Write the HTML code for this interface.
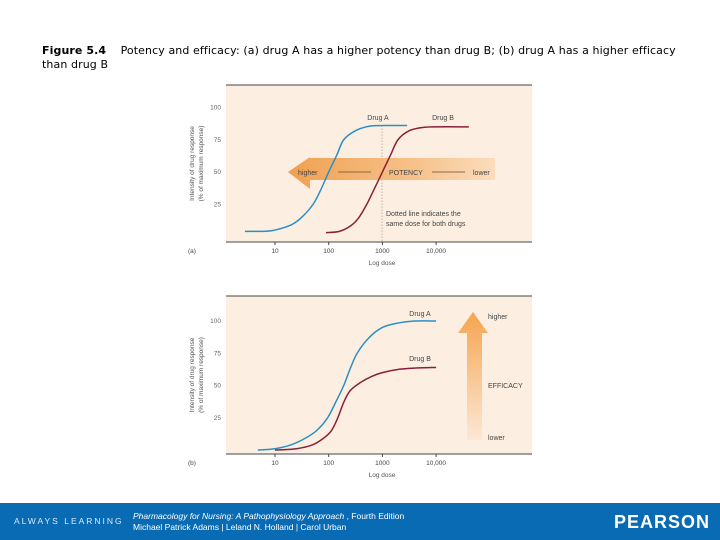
<!DOCTYPE html>
<html><head><meta charset="utf-8"><style>
body{margin:0;width:720px;height:540px;background:#fff;position:relative;overflow:hidden;font-family:"Liberation Sans",sans-serif}
#title{position:absolute;left:42px;top:44px;font-size:11px;color:#000;line-height:14px;font-family:"DejaVu Sans","Liberation Sans",sans-serif;letter-spacing:0.1px;white-space:nowrap}
#footer{position:absolute;left:0;top:503px;width:720px;height:37px;background:#0a6bb5;color:#fff}
</style></head><body>
<div id="title"><b>Figure 5.4</b>&nbsp;&nbsp;&nbsp; Potency and efficacy: (a) drug A has a higher potency than drug B; (b) drug A has a higher efficacy<br>than drug B</div>
<svg id="chart" width="720" height="503" style="position:absolute;left:0;top:0">
<defs>
<linearGradient id="hg" x1="0" x2="1" y1="0" y2="0"><stop offset="0" stop-color="#f0a050"/><stop offset="0.6" stop-color="#f6c189"/><stop offset="1" stop-color="#fbdcbc"/></linearGradient>
<linearGradient id="vg" x1="0" x2="0" y1="0" y2="1"><stop offset="0" stop-color="#f5a450"/><stop offset="1" stop-color="#fce8d6"/></linearGradient>
</defs>
</svg>
<div id="footer">
<div style="position:absolute;left:14px;top:13px;font-size:8.5px;letter-spacing:2px;color:#dce9f5">ALWAYS LEARNING</div>
<div style="position:absolute;left:133px;top:8px;font-size:8.5px;line-height:11px"><i>Pharmacology for Nursing: A Pathophysiology Approach</i> , Fourth Edition<br>Michael Patrick Adams | Leland N. Holland | Carol Urban</div>
<div style="position:absolute;left:614px;top:9px;font-size:18px;font-weight:bold;letter-spacing:1px">PEARSON</div>
</div>
<script>
const xTickLogs=[1,2,3,4];
const xTickLabels=["10","100","1000","10,000"];
const yTicks=[25,50,75,100];
const aDrugALog=[0.44,0.8,1.0,1.3,1.5,1.71,1.85,2.0,2.15,2.28,2.5,2.75,3.0,3.46];
const aDrugAVal=[4,4,5,9,15,25,36,50,63,75,82,85.5,86,86];
const aDrugBLog=[1.95,2.2,2.4,2.55,2.71,2.85,3.0,3.15,3.29,3.5,3.75,4.0,4.61];
const aDrugBVal=[3,4,8,14,25,37,50,63,75,82,84.5,85,85];
const bDrugALog=[0.68,1.0,1.3,1.6,1.8,1.98,2.13,2.28,2.4,2.53,2.75,3.0,3.3,3.6,4.0];
const bDrugAVal=[0,1,4,10,16,25,37,50,63,75,87,95,98.5,100,100];
const bDrugBLog=[1.0,1.4,1.7,1.9,2.05,2.17,2.28,2.4,2.58,2.8,3.0,3.3,3.6,4.0];
const bDrugBVal=[0,1,4,9,15,25,37,46,52,57,60,62.5,63.5,64];
const svg=document.getElementById('chart');
const NS='http://www.w3.org/2000/svg';
function mk(tag,attrs,txt){const e=document.createElementNS(NS,tag);for(const k in attrs)e.setAttribute(k,attrs[k]);if(txt!==undefined)e.textContent=txt;svg.appendChild(e);return e;}
const xS=l=>275+(l-1)*53.7;
function path(xs,ys){const p=xs.map((l,i)=>[xS(l),ys(i)]);let d='M'+p[0][0]+','+p[0][1];
for(let i=0;i<p.length-1;i++){const p0=p[i-1]||p[i],p1=p[i],p2=p[i+1],p3=p[i+2]||p2;
d+=' C'+(p1[0]+(p2[0]-p0[0])/6)+','+(p1[1]+(p2[1]-p0[1])/6)+' '+(p2[0]-(p3[0]-p1[0])/6)+','+(p2[1]-(p3[1]-p1[1])/6)+' '+p2[0]+','+p2[1];}return d;}
function panel(top,bottom,zero,letter,name){
 const yS=v=>zero-v*1.29;
 let e=mk('rect',{x:226,y:top,width:306,height:bottom-top,fill:'#fcefe2'});
 e=mk('line',{x1:226,x2:532,y1:top,y2:top,stroke:'#444','stroke-width':1});
 e=mk('line',{x1:226,x2:532,y1:bottom,y2:bottom,stroke:'#444','stroke-width':1});
 yTicks.forEach(v=>{const t=mk('text',{x:221,y:yS(v)+2,'font-size':6.5,fill:'#666','text-anchor':'end'},String(v));});
 xTickLogs.forEach((l,i)=>{const t=mk('line',{x1:xS(l),x2:xS(l),y1:bottom,y2:bottom+3,stroke:'#444'});
  const tl=mk('text',{x:xS(l),y:bottom+11,'font-size':6.5,fill:'#444','text-anchor':'middle'},xTickLabels[i]);});
 e=mk('text',{x:382,y:bottom+23,'font-size':6.5,fill:'#555','text-anchor':'middle'},'Log dose');
 e=mk('text',{x:188,y:bottom+11,'font-size':6.5,fill:'#444'},letter);
 const cy=(top+bottom)/2;
 e=mk('text',{transform:'translate(194,'+cy+') rotate(-90)','font-size':6.5,fill:'#555','text-anchor':'middle'},'Intensity of drug response');
 e=mk('text',{transform:'translate(203,'+cy+') rotate(-90)','font-size':6.5,fill:'#555','text-anchor':'middle'},'(% of maximum response)');
 return yS;}
// panel a
const yA=panel(85,242,236.5,'(a)','panel-a');
let e=mk('line',{x1:382,x2:382,y1:yA(86),y2:242,stroke:'#999','stroke-dasharray':'1.5,1.5','stroke-width':0.7});
e=mk('polygon',{points:'288,172 310,157 310,158 495,158 495,180 310,180 310,189',fill:'url(#hg)'});
e=mk('path',{d:path(aDrugALog,i=>yA(aDrugAVal[i])),fill:'none',stroke:'#2a8fc4','stroke-width':1.5});
e=mk('path',{d:path(aDrugBLog,i=>yA(aDrugBVal[i])),fill:'none',stroke:'#8a1f3a','stroke-width':1.5});
[['higher',298,175,'start'],['POTENCY',389,175,'start'],['lower',473,175,'start'],['Drug A',378,120,'middle'],['Drug B',443,120,'middle'],['Dotted line indicates the',386,216,'start'],['same dose for both drugs',386,226,'start']].forEach(a=>{const t=mk('text',{x:a[1],y:a[2],'font-size':7,fill:'#444','text-anchor':a[3]},a[0]);});
e=mk('line',{x1:338,x2:371,y1:172,y2:172,stroke:'#6b4a33','stroke-width':0.8});
e=mk('line',{x1:432,x2:465,y1:172,y2:172,stroke:'#6b4a33','stroke-width':0.8});
// panel b
const yB=panel(296,454,450,'(b)','panel-b');
e=mk('polygon',{points:'458,333 473,312 488,333 482,333 482,440 467,440 467,333',fill:'url(#vg)'});
e=mk('path',{d:path(bDrugALog,i=>yB(bDrugAVal[i])),fill:'none',stroke:'#2a8fc4','stroke-width':1.5});
e=mk('path',{d:path(bDrugBLog,i=>yB(bDrugBVal[i])),fill:'none',stroke:'#8a1f3a','stroke-width':1.5});
[['Drug A',420,316,'middle'],['Drug B',420,361,'middle'],['higher',488,319,'start'],['EFFICACY',488,388,'start'],['lower',488,440,'start']].forEach(a=>{const t=mk('text',{x:a[1],y:a[2],'font-size':7,fill:'#444','text-anchor':a[3]},a[0]);});
</script>
</body></html>
